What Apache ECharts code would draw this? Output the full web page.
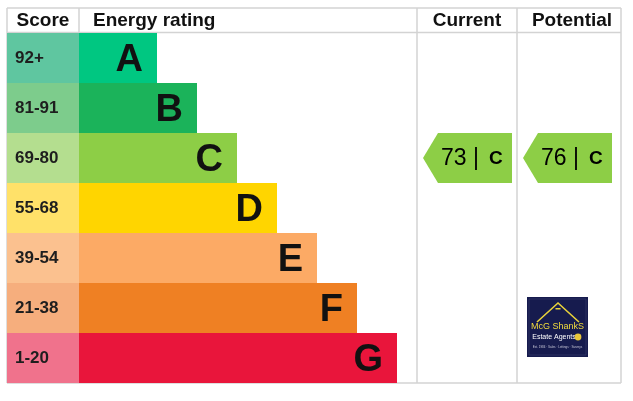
<!DOCTYPE html>
<html>
<head>
<meta charset="utf-8">
<title>Energy rating</title>
<script src="https://cdn.jsdelivr.net/npm/echarts@6/dist/echarts.min.js"></script>
<style>
  html, body { margin: 0; padding: 0; background: #ffffff; }
  #chart { width: 633px; height: 401px; }
</style>
</head>
<body>
<div id="chart"></div>
<script>
// Energy efficiency bands, top (best) to bottom (worst)
const bands = ['A', 'B', 'C', 'D', 'E', 'F', 'G'];
const scoreRanges = ['92+', '81-91', '69-80', '55-68', '39-54', '21-38', '1-20'];
// Length of each rating bar along the rating column
const barLengths = [78, 118, 158, 198, 238, 278, 318];
const barColors = ['#00c781', '#1bb35a', '#8dce46', '#ffd500', '#fcaa65', '#ef8023', '#e9153b'];
const scoreColors = ['#5fc6a0', '#7dcc8c', '#b4de8f', '#ffe169', '#fbc18f', '#f6ae7d', '#f0728c'];
// Current and potential ratings
const currentScore = 73;
const currentBand = 'C';
const potentialScore = 76;
const potentialBand = 'C';
const headers = ['Score', 'Energy rating', 'Current', 'Potential'];

const FONT = '"Liberation Sans", Arial, sans-serif';
const chart = echarts.init(document.getElementById('chart'), null, { renderer: 'canvas' });

const TOP = 33, BOTTOM_Y = 383;
const cols = [7, 79, 417, 517, 621];
const frameColor = '#d3d3d3';

function grid(i) {
  return { left: cols[i], width: cols[i + 1] - cols[i], top: TOP, height: BOTTOM_Y - TOP, containLabel: false };
}
function yCat(i) {
  return { gridIndex: i, type: 'category', data: bands, inverse: true, show: false };
}
// x axes measured in pixels across each column
function xVal(i) {
  return { gridIndex: i, type: 'value', min: 0, max: cols[i + 1] - cols[i], show: false };
}

function arrowItem(params, api) {
  const idx = api.value(0);
  const score = api.value(1);
  const band = bands[idx];
  const left = api.coord([6, idx]);
  const right = api.coord([95, idx]);
  const h = api.size([0, 1])[1];
  const yTop = left[1] - h / 2;
  const yBot = left[1] + h / 2;
  const tip = 15;
  return {
    type: 'group',
    children: [
      {
        type: 'polygon',
        shape: { points: [[left[0], left[1]], [left[0] + tip, yTop], [right[0], yTop], [right[0], yBot], [left[0] + tip, yBot]] },
        style: { fill: barColors[idx] }
      },
      {
        type: 'text',
        x: left[0] + 18,
        y: left[1] + 1,
        style: {
          text: '{n|' + score + ' |}   {b|' + band + '}',
          verticalAlign: 'middle',
          rich: {
            n: { fontFamily: FONT, fontSize: 23, color: '#1a1a1a' },
            b: { fontFamily: FONT, fontSize: 19, fontWeight: 'bold', color: '#1a1a1a' }
          }
        }
      }
    ]
  };
}

const hLine = (y) => ({ type: 'line', shape: { x1: cols[0], y1: y, x2: cols[4], y2: y }, style: { stroke: frameColor, lineWidth: 1.5 } });
const vLine = (x, y1, y2) => ({ type: 'line', shape: { x1: x, y1: y1, x2: x, y2: y2 }, style: { stroke: frameColor, lineWidth: 1.5 } });
const headText = (text, x, align) => ({
  type: 'text', x: x, y: 21, z: 10,
  style: { text: text, fontFamily: FONT, fontSize: 19, fontWeight: 'bold', fill: '#111', align: align, verticalAlign: 'middle' }
});

chart.setOption({
  animation: false,
  backgroundColor: '#ffffff',
  grid: [grid(0), grid(1), grid(2), grid(3)],
  xAxis: [xVal(0), xVal(1), xVal(2), xVal(3)],
  yAxis: [yCat(0), yCat(1), yCat(2), yCat(3)],
  series: [
    {
      type: 'bar', xAxisIndex: 0, yAxisIndex: 0, barWidth: '100%', barCategoryGap: 0,
      data: scoreRanges.map((s, i) => ({ value: cols[1] - cols[0], name: s, itemStyle: { color: scoreColors[i] } })),
      label: {
        show: true, position: 'insideLeft', distance: 8,
        formatter: (p) => p.name,
        fontFamily: FONT, fontSize: 17, fontWeight: 'bold', color: '#1e1e1e'
      },
      silent: true
    },
    {
      type: 'bar', xAxisIndex: 1, yAxisIndex: 1, barWidth: '100%', barCategoryGap: 0,
      data: barLengths.map((v, i) => ({ value: v, itemStyle: { color: barColors[i] } })),
      label: {
        show: true, position: 'insideRight', distance: 14, offset: [0, 3],
        formatter: (p) => bands[p.dataIndex],
        fontFamily: FONT, fontSize: 38, fontWeight: 'bold', color: '#111'
      },
      silent: true
    },
    {
      type: 'custom', xAxisIndex: 2, yAxisIndex: 2,
      renderItem: arrowItem,
      data: [[bands.indexOf(currentBand), currentScore]],
      silent: true
    },
    {
      type: 'custom', xAxisIndex: 3, yAxisIndex: 3,
      renderItem: arrowItem,
      data: [[bands.indexOf(potentialBand), potentialScore]],
      silent: true
    }
  ],
  graphic: [
    hLine(8), hLine(32.5), hLine(BOTTOM_Y),
    vLine(cols[0], 8, BOTTOM_Y), vLine(cols[1], 8, 32.5),
    vLine(cols[2], 8, BOTTOM_Y), vLine(cols[3], 8, BOTTOM_Y), vLine(cols[4], 8, BOTTOM_Y),
    headText(headers[0], (cols[0] + cols[1]) / 2, 'center'),
    headText(headers[1], 93, 'left'),
    headText(headers[2], (cols[2] + cols[3]) / 2, 'center'),
    headText(headers[3], 572, 'center'),
    // Agency logo
    {
      type: 'group', x: 527, y: 297, z: 10,
      children: [
        { type: 'rect', shape: { x: 0, y: 0, width: 61, height: 60 }, style: { fill: '#161b4e' } },
        { type: 'rect', shape: { x: 2, y: 2, width: 57, height: 56 }, style: { fill: 'none', stroke: '#3a3f70', lineWidth: 0.6 } },
        { type: 'polyline', shape: { points: [[10, 25], [31, 6], [52, 25]] }, style: { stroke: '#e8d23a', lineWidth: 1.6, fill: 'none' } },
        { type: 'rect', shape: { x: 28.5, y: 11, width: 5, height: 1.5 }, style: { fill: '#e8d23a' } },
        { type: 'text', x: 30.5, y: 30, style: { text: 'McG ShankS', fontFamily: FONT, fontSize: 9, fill: '#f2dc3c', align: 'center', verticalAlign: 'middle' } },
        { type: 'text', x: 27, y: 40, style: { text: 'Estate Agents', fontFamily: FONT, fontSize: 7, fill: '#ffffff', align: 'center', verticalAlign: 'middle' } },
        { type: 'circle', shape: { cx: 51, cy: 40, r: 3.4 }, style: { fill: '#e8c63a' } },
        { type: 'text', x: 30.5, y: 50, style: { text: 'Est. 1984 · Sales · Lettings · Surveys', fontFamily: FONT, fontSize: 3, fill: '#c8c8d8', align: 'center', verticalAlign: 'middle' } }
      ]
    }
  ]
});
</script>
</body>
</html>
